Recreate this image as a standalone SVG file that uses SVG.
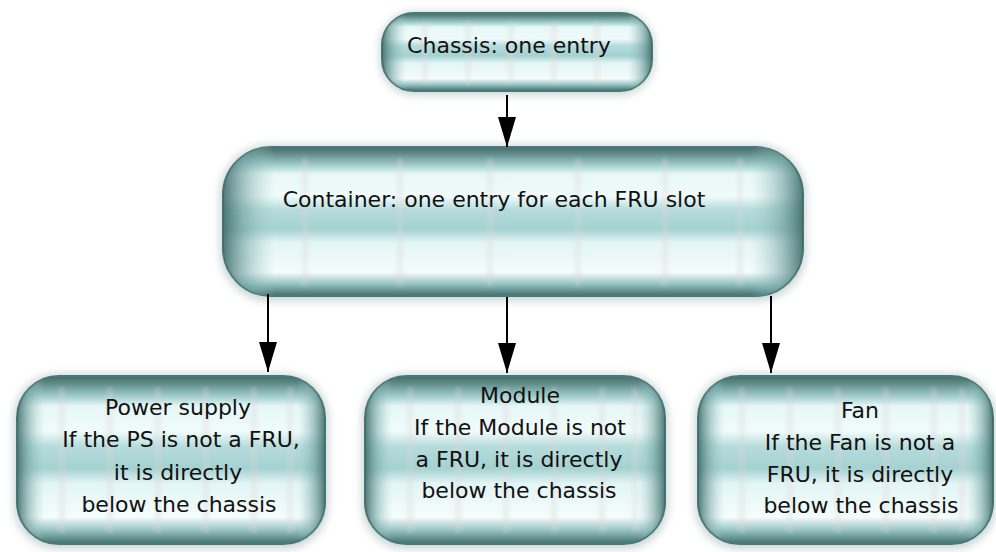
<svg xmlns="http://www.w3.org/2000/svg" width="996" height="552" viewBox="0 0 996 552">
<defs>
<linearGradient id="gv" x1="0" y1="0" x2="0" y2="1">
<stop offset="0" stop-color="#3f6c6a"/>
<stop offset="0.05" stop-color="#638f8d"/>
<stop offset="0.12" stop-color="#a0cccb"/>
<stop offset="0.18" stop-color="#e6f7f7"/>
<stop offset="0.33" stop-color="#f1fbfb"/>
<stop offset="0.42" stop-color="#b6dcdc"/>
<stop offset="0.55" stop-color="#a5d1d1"/>
<stop offset="0.64" stop-color="#e3f5f5"/>
<stop offset="0.84" stop-color="#f5fcfc"/>
<stop offset="0.91" stop-color="#a0caca"/>
<stop offset="0.96" stop-color="#6a9896"/>
<stop offset="1" stop-color="#426e6c"/>
</linearGradient>
<linearGradient id="gh" x1="0" y1="0" x2="1" y2="0">
<stop offset="0" stop-color="#3d6a68" stop-opacity="0.9"/>
<stop offset="0.035" stop-color="#6e9e9c" stop-opacity="0.6"/>
<stop offset="0.09" stop-color="#a6d0cf" stop-opacity="0"/>
<stop offset="0.91" stop-color="#a6d0cf" stop-opacity="0"/>
<stop offset="0.965" stop-color="#6e9e9c" stop-opacity="0.6"/>
<stop offset="1" stop-color="#3d6a68" stop-opacity="0.9"/>
</linearGradient>
<filter id="halo" x="-10%" y="-20%" width="120%" height="140%">
<feGaussianBlur stdDeviation="4"/>
</filter>
<filter id="soft" x="-5%" y="-5%" width="110%" height="110%">
<feGaussianBlur stdDeviation="2"/>
</filter>
<marker id="ah" viewBox="0 0 30 18" refX="30" refY="9" markerWidth="30" markerHeight="18" markerUnits="userSpaceOnUse" orient="auto">
<path d="M0,0 L30,9 L0,18 Z" fill="#000"/>
</marker>
<style>
.halo{fill:#9fb0b0;opacity:0.55;filter:url(#halo)}
.body{fill:url(#gv);stroke:#4a7876;stroke-width:2}
.side{fill:url(#gh)}
.grid{stroke:#ddd6d7;stroke-width:5;opacity:0.4;fill:none;filter:url(#soft)}
.t{font-family:"DejaVu Sans",sans-serif;font-size:22px;fill:#111;text-anchor:middle}
.c{stroke:#000;stroke-width:2;fill:none;marker-end:url(#ah)}
</style>
</defs>
<rect width="996" height="552" fill="#fff"/>

<g id="chassis">
<rect class="halo" x="380" y="12" width="274" height="83" rx="34"/>
<rect class="body" x="382" y="13" width="270" height="78" rx="32"/>
<path class="grid" d="M425,22V84M468,22V84M511,22V84M554,22V84M597,22V84"/>
<rect class="side" x="382" y="13" width="270" height="78" rx="32"/>
<text class="t" x="509" y="53">Chassis: one entry</text>
</g>

<g id="container">
<rect class="halo" x="220" y="145" width="586" height="156" rx="50"/>
<rect class="body" x="223" y="147" width="580" height="149" rx="48"/>
<path class="grid" d="M305,158V286M400,158V286M490,158V286M578,158V286M665,158V286M740,158V286"/>
<rect class="side" x="223" y="147" width="580" height="149" rx="48"/>
<text class="t" x="494" y="207">Container: one entry for each FRU slot</text>
</g>

<g id="powersupply">
<rect class="halo" x="14" y="374" width="314" height="175" rx="44"/>
<rect class="body" x="17" y="376" width="308" height="168" rx="42"/>
<path class="grid" d="M62,388V532M110,388V532M158,388V532M206,388V532M254,388V532M290,388V532"/>
<rect class="side" x="17" y="376" width="308" height="168" rx="42"/>
<text class="t" x="178" y="415">Power supply</text>
<text class="t" x="181" y="447">If the PS is not a FRU,</text>
<text class="t" x="178" y="480">it is directly</text>
<text class="t" x="179" y="512">below the chassis</text>
</g>

<g id="module">
<rect class="halo" x="362" y="374" width="306" height="175" rx="44"/>
<rect class="body" x="365" y="376" width="300" height="168" rx="42"/>
<path class="grid" d="M410,388V532M458,388V532M506,388V532M554,388V532M602,388V532M635,388V532"/>
<rect class="side" x="365" y="376" width="300" height="168" rx="42"/>
<text class="t" x="520" y="403">Module</text>
<text class="t" x="520" y="435">If the Module is not</text>
<text class="t" x="519" y="467">a FRU, it is directly</text>
<text class="t" x="519" y="498">below the chassis</text>
</g>

<g id="fan">
<rect class="halo" x="695" y="374" width="301" height="175" rx="44"/>
<rect class="body" x="698" y="376" width="295" height="168" rx="42"/>
<path class="grid" d="M742,388V532M790,388V532M838,388V532M886,388V532M934,388V532M962,388V532"/>
<rect class="side" x="698" y="376" width="295" height="168" rx="42"/>
<text class="t" x="860" y="418">Fan</text>
<text class="t" x="860" y="450">If the Fan is not a</text>
<text class="t" x="860" y="482">FRU, it is directly</text>
<text class="t" x="861" y="513">below the chassis</text>
</g>

<g id="connectors">
<line class="c" x1="507" y1="95" x2="507" y2="147"/>
<line class="c" x1="268" y1="294" x2="268" y2="372"/>
<line class="c" x1="507" y1="297" x2="507" y2="373"/>
<line class="c" x1="771" y1="296" x2="771" y2="373"/>
</g>
</svg>
